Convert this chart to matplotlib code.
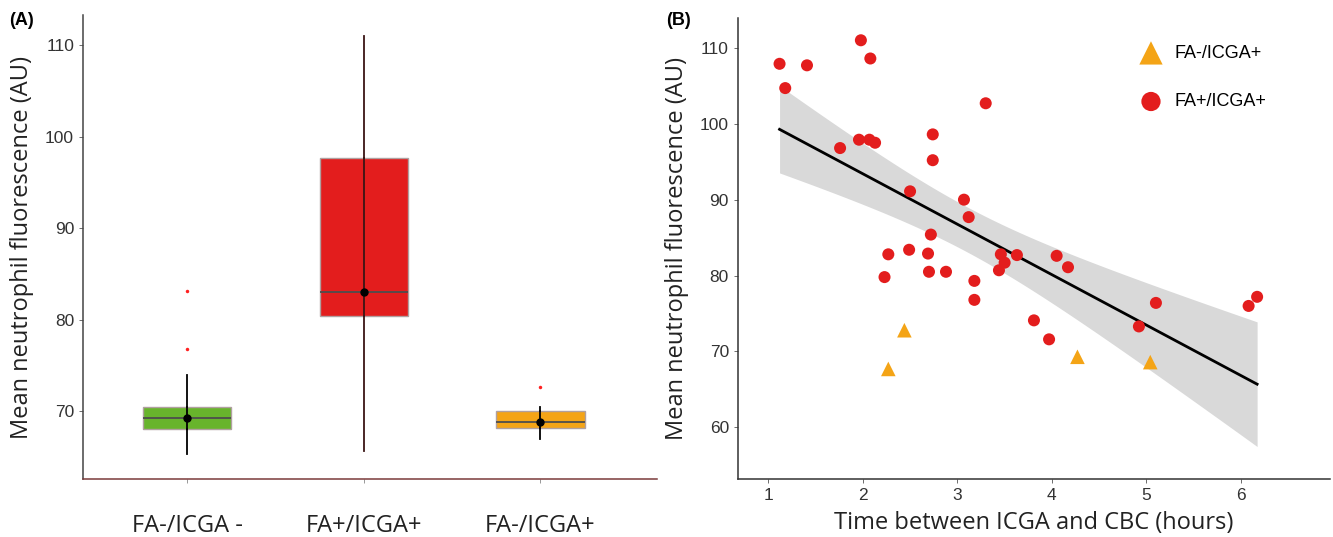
import numpy as np
import matplotlib
matplotlib.use("Agg")
import matplotlib.pyplot as plt

# ---- panel A: box summary ----
groups = ["FA-/ICGA -", "FA+/ICGA+", "FA-/ICGA+"]
box_colors = ["#68B42C", "#E31D1D", "#F4A416"]
q1 = [68.1, 80.4, 68.2]
med = [69.3, 83.0, 68.8]
q3 = [70.5, 97.7, 70.0]
wlo = [65.3, 65.7, 67.0]
whi = [74.0, 111.0, 70.5]
outliers = [[76.8, 83.1], [], [72.6]]
means = [69.3, 83.0, 68.8]

# ---- panel B: scatter ----
red_x = [1.12, 1.18, 1.41, 1.98, 2.08, 1.76, 1.96, 2.07, 2.13, 2.74, 2.74, 2.50,
         3.07, 3.12, 2.72, 2.27, 2.49, 2.69, 2.23, 2.70, 2.88, 3.18, 3.18, 3.30,
         3.46, 3.50, 3.44, 3.63, 3.81, 3.97, 4.05, 4.17, 4.92, 5.10, 6.08, 6.17]
red_y = [107.9, 104.7, 107.7, 111.0, 108.6, 96.8, 97.9, 97.9, 97.5, 98.6, 95.2, 91.1,
         90.0, 87.7, 85.4, 82.8, 83.4, 82.9, 79.8, 80.5, 80.5, 79.3, 76.8, 102.7,
         82.8, 81.7, 80.7, 82.7, 74.1, 71.6, 82.6, 81.1, 73.3, 76.4, 76.0, 77.2]
tri_x = [2.27, 2.44, 4.27, 5.04]
tri_y = [67.7, 72.8, 69.3, 68.6]

plt.rcParams["font.family"] = ["Open Sans", "DejaVu Sans"]
tick_font = ["Liberation Sans Narrow", "Liberation Sans", "DejaVu Sans"]

fig = plt.figure(figsize=(13.33, 5.37), dpi=100)
axA = fig.add_axes([0.0623, 0.108, 0.4306, 0.864])
axB = fig.add_axes([0.5536, 0.108, 0.4441, 0.858])

# ---------------- panel A ----------------
stats = []
for i in range(3):
    stats.append(dict(q1=q1[i], med=med[i], q3=q3[i], whislo=wlo[i], whishi=whi[i],
                      fliers=outliers[i], mean=means[i], label=groups[i]))
bp = axA.bxp(stats, positions=[0, 1, 2], widths=0.5, patch_artist=True,
             showcaps=False, showfliers=True, showmeans=False,
             medianprops=dict(color="#4d4d4d", lw=1.3),
             whiskerprops=dict(color="black", lw=1.3),
             flierprops=dict(marker="o", markersize=2.5, markerfacecolor="#ff2020",
                             markeredgecolor="none"))
for patch, c in zip(bp["boxes"], box_colors):
    patch.set_facecolor(c)
    patch.set_edgecolor("#b0a0a0")
    patch.set_linewidth(1.0)
for w in bp["whiskers"][2:4]:
    w.set_color("#3a1515")
# the whisker line runs through the box
for i in range(3):
    axA.plot([i, i], [q1[i], q3[i]], color="#3a1515" if i == 1 else "black", lw=1.3, zorder=3)
axA.plot([0, 1, 2], means, "o", color="black", markersize=5, zorder=4)

axA.set_xlim(-0.59, 2.66)
axA.set_ylim(62.6, 113.3)
axA.set_yticks([70, 80, 90, 100, 110])
axA.set_xticks([0, 1, 2])
axA.set_xticklabels(groups, fontsize=17, color="#222222")
axA.tick_params(axis="x", length=3, width=0.6, color="#888888", pad=22)
axA.tick_params(axis="y", length=3, width=0.6, color="#555555", labelsize=12.5, labelcolor="#333333")
for lb in axA.get_yticklabels():
    lb.set_family(tick_font)
axA.set_ylabel("Mean neutrophil fluorescence (AU)", fontsize=17, color="#222222", labelpad=8)
for sp in ["top", "right"]:
    axA.spines[sp].set_visible(False)
axA.spines["left"].set_color("#444444")
axA.spines["bottom"].set_color("#7a3a3a")
axA.spines["left"].set_linewidth(1.1)
axA.spines["bottom"].set_linewidth(1.1)
fig.text(0.007, 0.978, "(A)", fontsize=13, fontweight="bold", va="top",
         family=["Liberation Sans", "DejaVu Sans"])

# ---------------- panel B ----------------
all_x = np.array(red_x + tri_x)
all_y = np.array(red_y + tri_y)
n = len(all_x)
slope, icpt = np.polyfit(all_x, all_y, 1)
xs = np.linspace(min(all_x), max(all_x), 100)
fit = icpt + slope * xs
resid = all_y - (icpt + slope * all_x)
s = np.sqrt(np.sum(resid ** 2) / (n - 2))
sxx = np.sum((all_x - all_x.mean()) ** 2)
se = s * np.sqrt(1.0 / n + (xs - all_x.mean()) ** 2 / sxx)
tval = 2.026
axB.fill_between(xs, fit - tval * se, fit + tval * se, color="#d9d9d9", lw=0, zorder=1)
axB.plot(xs, fit, color="black", lw=2, zorder=2)

axB.scatter(red_x, red_y, s=75, color="#E31D1D", edgecolors="none", zorder=3, label="FA+/ICGA+")
axB.scatter(tri_x, tri_y, s=110, marker="^", color="#F4A416", edgecolors="none", zorder=3, label="FA-/ICGA+")

axB.set_xlim(0.68, 6.94)
axB.set_ylim(53.2, 113.9)
axB.set_xticks([1, 2, 3, 4, 5, 6])
axB.set_yticks([60, 70, 80, 90, 100, 110])
axB.tick_params(length=3, width=0.6, color="#555555", labelsize=12.5, labelcolor="#333333")
for lb in axB.get_yticklabels() + axB.get_xticklabels():
    lb.set_family(tick_font)
axB.set_xlabel("Time between ICGA and CBC (hours)", fontsize=17, color="#222222", labelpad=6)
axB.set_ylabel("Mean neutrophil fluorescence (AU)", fontsize=17, color="#222222", labelpad=8)
for sp in ["top", "right"]:
    axB.spines[sp].set_visible(False)
for sp in ["left", "bottom"]:
    axB.spines[sp].set_color("#333333")
    axB.spines[sp].set_linewidth(1.1)

handles, labels = axB.get_legend_handles_labels()
leg = axB.legend(handles[::-1], labels[::-1], loc="upper right", bbox_to_anchor=(0.92, 0.978),
                 frameon=False, markerscale=1.6, labelspacing=1.75,
                 handletextpad=0.3, prop={"family": ["Liberation Sans", "DejaVu Sans"], "size": 13})
fig.text(0.500, 0.978, "(B)", fontsize=13, fontweight="bold", va="top",
         family=["Liberation Sans", "DejaVu Sans"])

fig.savefig("out.png", dpi=100)
